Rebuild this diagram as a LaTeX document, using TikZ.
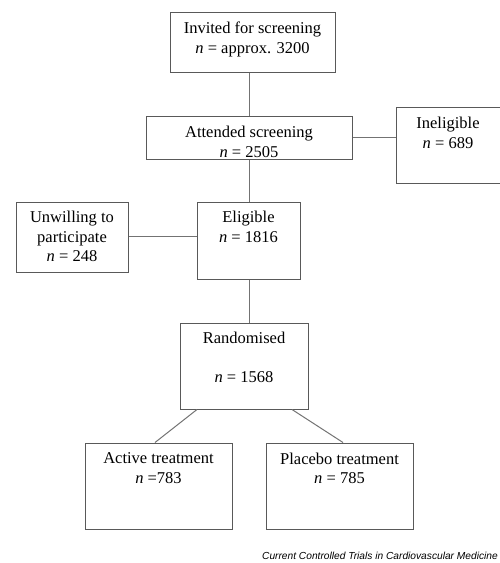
\documentclass[tikz,border=0pt]{standalone}
\usepackage{fontspec}
\setmainfont{Liberation Serif}
\newfontfamily\capfont{Liberation Sans}
\begin{document}
\begin{tikzpicture}[x=1pt,y=-1pt,
  boxs/.style={draw=black!65, line width=1pt, fill=white, inner sep=0pt},
  txt/.style={anchor=north, inner sep=0pt, align=center, font=\fontsize{16.5}{19.5}\selectfont},
  link/.style={draw=black!55, line width=1pt}]
\useasboundingbox (0,0) rectangle (500,563);
% boxes
\node[boxs, minimum width=165pt, minimum height=60pt] (inv) at (252.5,42) {};
\node[boxs, minimum width=206pt, minimum height=43pt] (att) at (249,137.5) {};
\node[boxs, minimum width=104pt, minimum height=76pt] (inel) at (448,145) {};
\node[boxs, minimum width=112pt, minimum height=70pt] (unw) at (72,237) {};
\node[boxs, minimum width=103pt, minimum height=77pt] (elig) at (248.5,240.5) {};
\node[boxs, minimum width=128pt, minimum height=86pt] (rand) at (244,366) {};
\node[boxs, minimum width=147pt, minimum height=86pt] (act) at (158.5,486) {};
\node[boxs, minimum width=147pt, minimum height=86pt] (plac) at (339.5,486) {};
% texts
\node[txt] (tinv) at ([yshift=-10.5pt]inv.north) {Invited for screening\\\textit{n} = approx. 3200};
\node[txt] (tatt) at ([yshift=-10.5pt]att.north) {Attended screening\\\textit{n} = 2505};
\node[txt] (tinel) at ([yshift=-10.5pt]inel.north) {Ineligible\\\textit{n} = 689};
\node[txt] (tunw) at ([yshift=-9.5pt]unw.north) {Unwilling to\\participate\\\textit{n} = 248};
\node[txt] (telig) at ([yshift=-9.5pt]elig.north) {Eligible\\\textit{n} = 1816};
\node[txt] (trand) at ([yshift=-9pt]rand.north) {Randomised\\[19.5pt]\textit{n} = 1568};
\node[txt] (tact) at ([yshift=-10pt]act.north) {Active treatment\\\textit{n} =783};
\node[txt] (tplac) at ([yshift=-10pt]plac.north) {Placebo treatment\\\textit{n} = 785};
% connectors
\draw[link] (inv.south -| 249,0) -- (att.north -| 249,0);
\draw[link] (att.east) -- (inel.west |- att.east);
\draw[link] (att.south -| 249,0) -- (elig.north -| 249,0);
\draw[link] (unw.east |- 0,236) -- (elig.west |- 0,236);
\draw[link] (elig.south -| 249,0) -- (rand.north -| 249,0);
\draw[link] (rand.south -| 197,0) -- (act.north -| 155,0);
\draw[link] (rand.south -| 292,0) -- (plac.north -| 343,0);
% caption
\node[anchor=base east, inner sep=0pt, font=\capfont\itshape\fontsize{10.2}{12}\selectfont] (cap) at (498,559) {Current Controlled Trials in Cardiovascular Medicine};
\end{tikzpicture}
\end{document}
